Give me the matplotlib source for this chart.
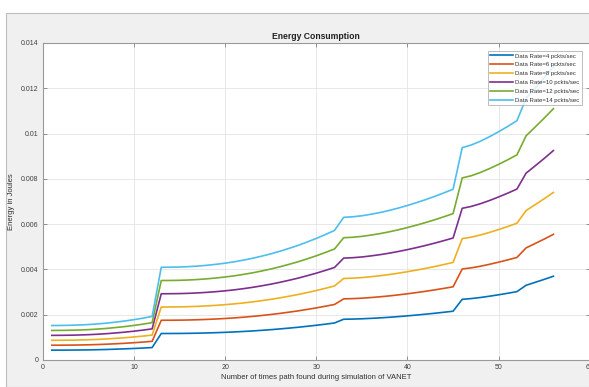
import matplotlib

matplotlib.use("Agg")

import matplotlib.pyplot as plt
from matplotlib.patches import Rectangle

plt.rcParams["font.family"] = ["Liberation Sans", "DejaVu Sans"]

# values, in units of 1e-4 J
SCALE = 1e-4
x_runs = list(range(1, 57))

rate_4 = [4.35, 4.36, 4.38, 4.42, 4.47, 4.55, 4.65, 4.78, 4.92, 5.09, 5.28, 5.50,
          11.70, 11.71, 11.73, 11.78, 11.85, 11.95, 12.07, 12.22, 12.39, 12.60, 12.83, 13.10,
          13.39, 13.72, 14.08, 14.46, 14.89, 15.34, 15.83, 16.35,
          18.00, 18.07, 18.20, 18.39, 18.61, 18.87, 19.17, 19.50, 19.86, 20.24, 20.65, 21.09, 21.55,
          26.80, 27.13, 27.61, 28.18, 28.81, 29.48, 30.20,
          33.00, 34.30, 35.62, 37.00]
rate_6 = [6.53, 6.54, 6.57, 6.63, 6.71, 6.83, 6.98, 7.17, 7.38, 7.64, 7.92, 8.25,
          17.55, 17.57, 17.60, 17.67, 17.78, 17.93, 18.11, 18.33, 18.59, 18.90, 19.25, 19.65,
          20.09, 20.58, 21.12, 21.69, 22.34, 23.01, 23.75, 24.53,
          27.00, 27.11, 27.30, 27.59, 27.92, 28.31, 28.76, 29.25, 29.79, 30.36, 30.98, 31.64, 32.33,
          40.20, 40.70, 41.42, 42.27, 43.22, 44.22, 45.30,
          49.50, 51.45, 53.43, 55.50]
rate_8 = [8.70, 8.72, 8.76, 8.84, 8.94, 9.10, 9.30, 9.56, 9.84, 10.18, 10.56, 11.00,
          23.40, 23.42, 23.46, 23.56, 23.70, 23.90, 24.14, 24.44, 24.78, 25.20, 25.66, 26.20,
          26.78, 27.44, 28.16, 28.92, 29.78, 30.68, 31.66, 32.70,
          36.00, 36.14, 36.40, 36.78, 37.22, 37.74, 38.34, 39.00, 39.72, 40.48, 41.30, 42.18, 43.10,
          53.60, 54.26, 55.22, 56.36, 57.62, 58.96, 60.40,
          66.00, 68.60, 71.24, 74.00]
rate_10 = [10.88, 10.90, 10.95, 11.05, 11.18, 11.38, 11.63, 11.95, 12.30, 12.73, 13.20, 13.75,
           29.25, 29.28, 29.33, 29.45, 29.63, 29.88, 30.18, 30.55, 30.98, 31.50, 32.08, 32.75,
           33.48, 34.30, 35.20, 36.15, 37.23, 38.35, 39.58, 40.88,
           45.00, 45.18, 45.50, 45.98, 46.53, 47.18, 47.93, 48.75, 49.65, 50.60, 51.63, 52.73, 53.88,
           67.00, 67.83, 69.03, 70.45, 72.03, 73.70, 75.50,
           82.50, 85.75, 89.05, 92.50]
rate_12 = [13.05, 13.08, 13.14, 13.26, 13.41, 13.65, 13.95, 14.34, 14.76, 15.27, 15.84, 16.50,
           35.10, 35.13, 35.19, 35.34, 35.55, 35.85, 36.21, 36.66, 37.17, 37.80, 38.49, 39.30,
           40.17, 41.16, 42.24, 43.38, 44.67, 46.02, 47.49, 49.05,
           54.00, 54.21, 54.60, 55.17, 55.83, 56.61, 57.51, 58.50, 59.58, 60.72, 61.95, 63.27, 64.65,
           80.40, 81.39, 82.83, 84.54, 86.43, 88.44, 90.60,
           99.00, 102.90, 106.86, 111.00]
rate_14 = [15.23, 15.26, 15.33, 15.47, 15.65, 15.93, 16.28, 16.73, 17.22, 17.82, 18.48, 19.25,
           40.95, 40.99, 41.06, 41.23, 41.48, 41.83, 42.25, 42.77, 43.37, 44.10, 44.91, 45.85,
           46.87, 48.02, 49.28, 50.61, 52.12, 53.69, 55.41, 57.23,
           63.00, 63.25, 63.70, 64.37, 65.14, 66.05, 67.10, 68.25, 69.51, 70.84, 72.28, 73.82, 75.43,
           93.80, 94.96, 96.64, 98.63, 100.84, 103.18, 105.70,
           115.50, 120.05, 124.67, 129.50]

series = [rate_4, rate_6, rate_8, rate_10, rate_12, rate_14]
labels = ["Data Rate=4 pckts/sec", "Data Rate=6 pckts/sec", "Data Rate=8 pckts/sec",
          "Data Rate=10 pckts/sec", "Data Rate=12 pckts/sec", "Data Rate=14 pckts/sec"]
colors = ["#0072BD", "#D95319", "#EDB120", "#7E2F8E", "#77AC30", "#4DBEEE"]

x_ticks = [0, 10, 20, 30, 40, 50, 60]
y_ticks = [0, 0.002, 0.004, 0.006, 0.008, 0.01, 0.012, 0.014]
y_tick_labels = ["0", "0.002", "0.004", "0.006", "0.008", "0.01", "0.012", "0.014"]

W, H = 589, 387
fig = plt.figure(figsize=(W / 100, H / 100), dpi=100)
fig.patch.set_facecolor("white")
# grey window area below the thin white strip at the top
fig.patches.append(Rectangle((6 / W, 0), 1, (H - 13) / H, transform=fig.transFigure,
                             facecolor="#f0f0f0", edgecolor="#bdbdbd", linewidth=0.8, zorder=-5))

ax = fig.add_axes([42.7 / W, 27 / H, 547.2 / W, 317 / H])
ax.set_zorder(1)
ax.set_facecolor("white")

for vals, lab, col in zip(series, labels, colors):
    ax.plot(x_runs, [v * SCALE for v in vals], color=col, linewidth=1.2, label=lab)

ax.set_xlim(0, 60)
ax.set_ylim(0, 0.014)
ax.set_xticks(x_ticks)
ax.set_yticks(y_ticks)
ax.set_yticklabels(y_tick_labels)
ax.grid(True, color="#e4e4e4", linewidth=0.6)
ax.set_axisbelow(True)

ax.tick_params(direction="in", length=3, width=0.6, labelsize=5.0, colors="#808080",
               labelcolor="#404040", top=True, right=True, pad=3)
for sp in ax.spines.values():
    sp.set_color("#999999")
    sp.set_linewidth(0.8)

ax.set_title("Energy Consumption", fontsize=6.2, fontweight="bold", color="#202020", pad=3)
ax.set_xlabel("Number of times path found during simulation of VANET", fontsize=5.5,
              color="#303030", labelpad=2)
ax.set_ylabel("Energy in Joules", fontsize=5.5, color="#303030", labelpad=4)

leg = ax.legend(loc="upper right", bbox_to_anchor=(582 / W, 1 - 51 / H),
                bbox_transform=fig.transFigure, fontsize=4.3, frameon=True, fancybox=False,
                handlelength=3.8, handletextpad=0.4, labelspacing=0.62, borderpad=0.4,
                borderaxespad=0)
leg.get_frame().set_edgecolor("#a0a0a0")
leg.get_frame().set_linewidth(0.6)
for t in leg.get_texts():
    t.set_color("#303030")

fig.savefig("out.png", dpi=100)
